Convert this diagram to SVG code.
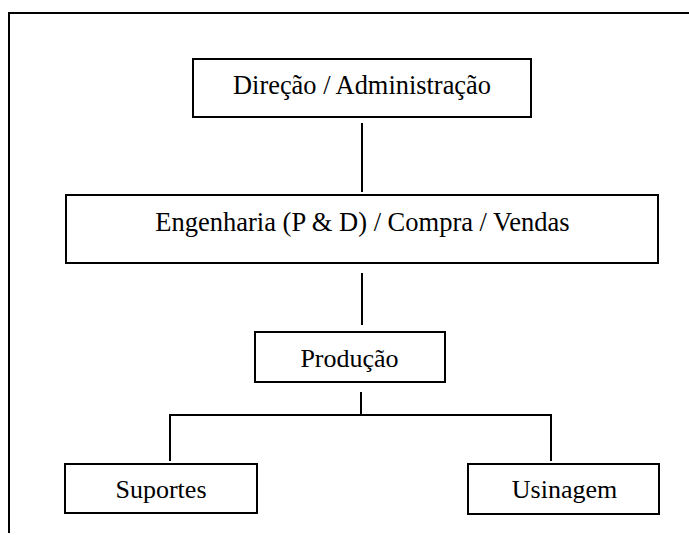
<svg xmlns="http://www.w3.org/2000/svg" width="689" height="535" viewBox="0 0 689 535">
<style>
.box{fill:#fff;stroke:#000;stroke-width:2}
.ln{fill:none;stroke:#000;stroke-width:2}
.t{font-family:"Liberation Serif","Times New Roman",serif;font-size:26px;fill:#000;text-anchor:middle}
</style>
<rect width="689" height="535" fill="#fff"/>
<g id="frame"><path class="ln" d="M9,533 V13 H689"/></g>
<g id="connectors">
<path class="ln" d="M362,123 V192"/>
<path class="ln" d="M362,273 V325"/>
<path class="ln" d="M361,392 V415"/>
<path class="ln" d="M170,461 V415 H551 V461"/>
</g>
<g id="direcao"><rect class="box" x="193" y="59" width="338" height="58"/><text class="t" x="362" y="94" style="font-size:26.4px">Direção / Administração</text></g>
<g id="engenharia"><rect class="box" x="66" y="195" width="592" height="68"/><text class="t" x="362.5" y="231" style="font-size:26.5px">Engenharia (P &amp; D) / Compra / Vendas</text></g>
<g id="producao"><rect class="box" x="255" y="332" width="190" height="50"/><text class="t" x="349.5" y="367">Produção</text></g>
<g id="suportes"><rect class="box" x="65" y="464" width="192" height="49"/><text class="t" x="161" y="498">Suportes</text></g>
<g id="usinagem"><rect class="box" x="468" y="464" width="191" height="50"/><text class="t" x="564.5" y="498">Usinagem</text></g>
</svg>
